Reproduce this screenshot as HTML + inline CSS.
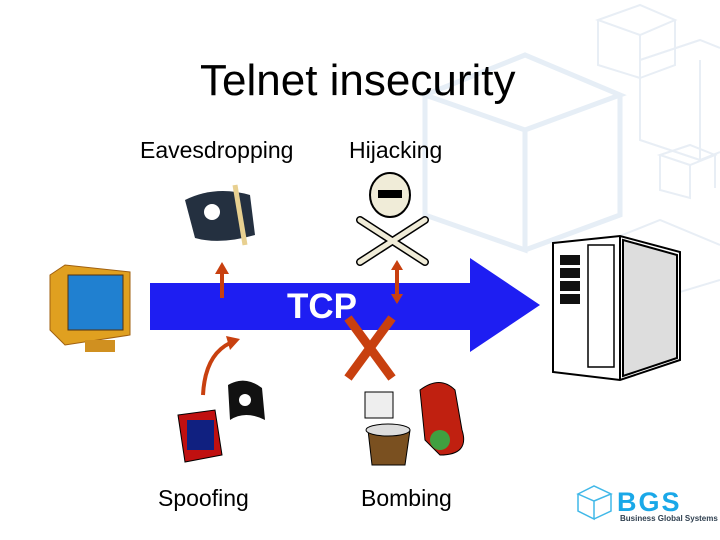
<!DOCTYPE html>
<html><head><style>
body{margin:0;width:720px;height:540px;overflow:hidden;background:#fff;font-family:"Liberation Sans",sans-serif;position:relative}
.t{position:absolute;color:#000;white-space:nowrap}
</style></head><body>
<svg width="720" height="540" style="position:absolute;left:0;top:0">
<g fill="none" stroke="#e6eef6" stroke-width="5">
<path d="M425 95 L525 55 L620 95 L525 130 Z M425 95 L425 215 L525 250 L525 130 M620 95 L620 215 L525 250"/>
</g>
<g fill="none" stroke="#e8eef5" stroke-width="2">
<path d="M598 20 L640 5 L675 20 L640 35 Z M598 20 L598 65 L640 78 L640 35 M675 20 L675 65 L640 78"/>
<path d="M640 60 L700 40 L720 48 M640 60 L640 140 L700 160 L720 152 M700 60 L700 160"/>
<path d="M660 155 L690 145 L715 155 L690 165 Z M660 155 L660 190 L690 198 L690 165 M715 155 L715 188"/>
<path d="M560 260 L660 220 L720 245 M620 310 L720 280"/>
</g>
<polygon points="150,283 470,283 470,258 540,305 470,352 470,330 150,330" fill="#1e1ef2"/>
<g stroke="#c8400f" stroke-width="4" fill="#c8400f">
<line x1="222" y1="298" x2="222" y2="272"/><polygon points="215,274 229,274 222,262" stroke="none"/>
<line x1="397" y1="268" x2="397" y2="296"/><polygon points="391,270 403,270 397,260" stroke="none"/><polygon points="391,294 403,294 397,304" stroke="none"/>
<path d="M203 395 Q205 355 230 343" fill="none"/><polygon points="226,336 240,339 230,350" stroke="none"/>
</g>
<g stroke="#c8400f" stroke-width="9" stroke-linecap="butt">
<line x1="348" y1="318" x2="392" y2="378"/><line x1="392" y1="318" x2="348" y2="378"/>
</g>
<g>
<path d="M50 275 L65 265 L130 272 L130 335 L65 345 L50 330 Z" fill="#e0a020" stroke="#a06010"/>
<rect x="68" y="275" width="55" height="55" fill="#2080d0" stroke="#503010"/>
<rect x="85" y="340" width="30" height="12" fill="#d09020"/>
</g>
<g stroke="#000" stroke-width="2">
<path d="M553 243 L620 236 L680 252 L680 360 L620 380 L553 372 Z" fill="#fff"/>
<path d="M620 236 L620 380" />
<path d="M623 240 L677 255 L677 358 L623 376 Z" fill="#ddd"/>
<rect x="588" y="245" width="26" height="122" fill="#fff" stroke-width="1.5"/>
</g>
<g fill="#111"><rect x="560" y="255" width="20" height="10"/><rect x="560" y="268" width="20" height="10"/><rect x="560" y="281" width="20" height="10"/><rect x="560" y="294" width="20" height="10"/></g>
<path d="M185 200 Q215 185 250 195 L255 235 Q220 245 195 238 Z" fill="#243040"/>
<circle cx="212" cy="212" r="8" fill="#fff"/>
<path d="M235 185 L245 245" stroke="#e8d090" stroke-width="5"/>
<ellipse cx="390" cy="195" rx="20" ry="22" fill="#f0ecd8" stroke="#000" stroke-width="2"/>
<rect x="378" y="190" width="24" height="8" fill="#000"/>
<g stroke="#000" stroke-width="8" stroke-linecap="round"><line x1="360" y1="220" x2="425" y2="262"/><line x1="425" y1="220" x2="360" y2="262"/></g>
<g stroke="#f0ecd8" stroke-width="5" stroke-linecap="round"><line x1="360" y1="220" x2="425" y2="262"/><line x1="425" y1="220" x2="360" y2="262"/></g>
<path d="M178 415 L215 410 L222 455 L185 462 Z" fill="#c01010" stroke="#000"/>
<rect x="187" y="420" width="27" height="30" fill="#102080"/>
<path d="M228 385 Q245 375 262 388 L265 420 Q245 410 230 420 Z" fill="#111"/>
<circle cx="245" cy="400" r="6" fill="#fff"/>
<path d="M368 430 L410 430 L405 465 L372 465 Z" fill="#7a5020" stroke="#000"/>
<ellipse cx="388" cy="430" rx="22" ry="6" fill="#ddd" stroke="#000"/>
<rect x="365" y="392" width="28" height="26" fill="#eee" stroke="#000"/>
<path d="M420 390 Q440 375 455 390 L462 430 Q470 455 440 455 L425 440 Z" fill="#c02010" stroke="#000"/>
<circle cx="440" cy="440" r="10" fill="#40a040"/>
<g fill="none" stroke="#40b8e8" stroke-width="1.5">
<path d="M578 494 L594 486 L611 494 L594 501 Z M578 494 L578 511 L594 519 L594 501 M611 494 L611 511 L594 519"/>
</g>
</svg>
<div class="t" style="left:200px;top:56px;font-size:44px">Telnet insecurity</div>
<div class="t" style="left:140px;top:137px;font-size:23px">Eavesdropping</div>
<div class="t" style="left:349px;top:137px;font-size:23px">Hijacking</div>
<div class="t" style="left:158px;top:485px;font-size:23px">Spoofing</div>
<div class="t" style="left:361px;top:485px;font-size:23px">Bombing</div>
<div class="t" style="left:287px;top:287px;font-size:35px;font-weight:bold;color:#fff">TCP</div>
<div class="t" style="left:617px;top:487px;font-size:27px;font-weight:bold;color:#1aa8e8;letter-spacing:2px">BGS</div>
<div class="t" style="left:620px;top:514px;font-size:8px;font-weight:bold;color:#304050">Business Global Systems</div>
</body></html>
